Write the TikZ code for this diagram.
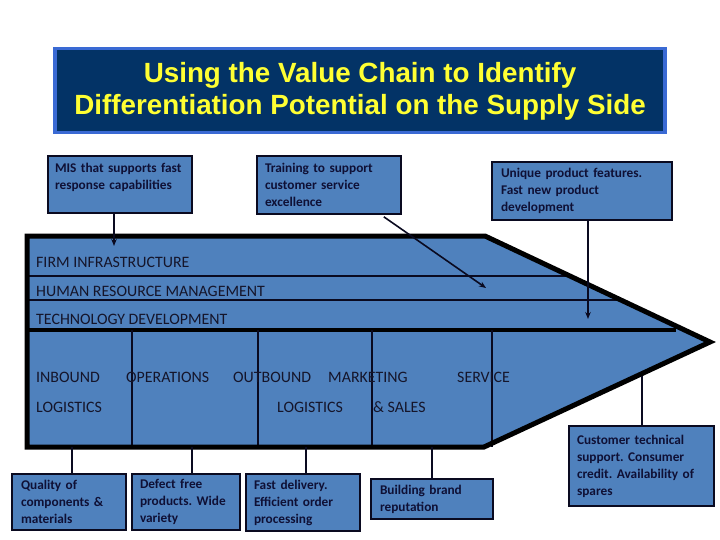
\documentclass[tikz,border=0pt]{standalone}
\usepackage{fontspec}
\setmainfont{Carlito}
\newfontfamily\titlefont{Liberation Sans}
\usetikzlibrary{arrows.meta,calc}
\definecolor{chainblue}{HTML}{4F81BD}
\definecolor{titlefill}{HTML}{033366}
\definecolor{titleborder}{HTML}{3A6AD4}
\definecolor{titletext}{HTML}{FFFF33}
\definecolor{boxtext}{HTML}{0F1035}
\definecolor{lbltext}{HTML}{15152A}
\definecolor{darkline}{HTML}{0A0A20}
\frenchspacing
\begin{document}
\begin{tikzpicture}[x=1pt,y=-1pt,
  box/.style={draw=darkline, line width=1.6pt, fill=chainblue, text=boxtext,
    font=\fontsize{13.3}{17}\selectfont\bfseries\frenchspacing, align=left, inner xsep=7pt, inner ysep=0pt},
  lbl/.style={anchor=base west, inner sep=0pt, text=lbltext, font=\fontsize{15.9}{18}\selectfont},
  conn/.style={line width=1.6pt, draw=darkline},
  arr/.style={conn, -{Stealth[length=7pt,width=5.5pt]}},
  rowline/.style={line width=1.8pt, draw=darkline},
  colline/.style={line width=1.5pt, draw=darkline},
]
\useasboundingbox (0,0) rectangle (720,540);

% title
\node[draw=titleborder, line width=3.5pt, fill=titlefill, minimum width=610pt, minimum height=84pt,
  inner sep=0pt] (title) at (360,90.5) {};
\node[text=titletext, align=center, inner sep=0pt,
  font=\titlefont\bfseries\fontsize{27.8}{32}\selectfont] (titletxt) at (360,91)
  {Using the Value Chain to Identify\\Differentiation Potential on the Supply Side};

% chain body
\coordinate (tl) at (27,236);
\coordinate (tr) at (485,236);
\coordinate (tip) at (710,342);
\coordinate (br) at (484,447);
\coordinate (bl) at (27,447);
\fill[chainblue] (tl) -- (tr) -- (tip) -- (br) -- (bl) -- cycle;

% support rows
\draw[rowline] (27,276) -- (571,276);
\draw[rowline] (27,300) -- (622,300);
\draw[line width=4.5pt, draw=black] (27,330) -- (676,330);

% primary columns
\foreach \x in {132,258,372,492} \draw[colline] (\x,330) -- (\x,447);

\draw[line width=5pt, line join=miter, draw=black] (tl) -- (tr) -- (tip) -- (br) -- (bl) -- cycle;

% labels
\node[lbl] (firm) at (36,267) {FIRM INFRASTRUCTURE};
\node[lbl] (hrm) at (36,296) {HUMAN RESOURCE MANAGEMENT};
\node[lbl] (tech) at (36,324) {TECHNOLOGY DEVELOPMENT};
\node[lbl] (inb) at (36,382) {INBOUND};
\node[lbl] (inb2) at (36,412) {LOGISTICS};
\node[lbl] (ops) at (126,382) {OPERATIONS};
\node[lbl] (outb) at (233,382) {OUTBOUND};
\node[lbl] (outb2) at (277,412) {LOGISTICS};
\node[lbl] (mkt) at (328,382) {MARKETING};
\node[lbl] (mkt2) at (373,412) {\& SALES};
\node[lbl] (srv) at (457,382) {SERVICE};

% top boxes
\node[box, minimum width=144pt, minimum height=57pt, text width=130pt] (mis) at (120,184.5)
  {\mbox{MIS that supports fast}\\response capabilities\\\mbox{}};
\node[box, minimum width=144pt, minimum height=58pt, text width=130pt, inner xsep=8pt, text width=128pt] (train) at (329,185)
  {Training to support\\customer service\\excellence};
\node[box, minimum width=180pt, minimum height=58pt, text width=162pt, inner xsep=9pt] (uniq) at (582,191)
  {Unique product features.\\Fast new product\\development};

% bottom boxes
\node[box, minimum width=114pt, minimum height=56pt, text width=96pt, inner xsep=9pt] (qual) at (69,502)
  {Quality of\\components \&\\materials};
\node[box, minimum width=108pt, minimum height=56pt, text width=92pt, inner xsep=8pt] (defect) at (186,502)
  {Defect free\\products. Wide\\variety};
\node[box, minimum width=114pt, minimum height=57pt, text width=98pt, inner xsep=8pt] (fast) at (303,502.5)
  {Fast delivery.\\Efficient order\\processing};
\node[box, minimum width=122pt, minimum height=40pt, text width=104pt, inner xsep=9pt] (brand) at (432,499)
  {Building brand\\reputation};
\node[box, minimum width=145pt, minimum height=80pt, text width=129pt, inner xsep=8pt] (cust) at (641.5,466)
  {Customer technical\\support. Consumer\\credit. Availability of\\spares};

% connectors
\coordinate (misTip) at (114,246);
\draw[arr] (mis.south -| misTip) -- (misTip);
\coordinate (trTip) at (486,288);
\draw[arr] ($(train.south east)+(-18,2)$) -- (trTip);
\coordinate (uTip) at (588,319);
\draw[arr] (uniq.south -| uTip) -- (uTip);
\coordinate (cTop) at (642,376);
\draw[conn] (cTop) -- (cust.north -| cTop);
\coordinate (b1) at (72,447);
\coordinate (b2) at (192,447);
\coordinate (b3) at (306,447);
\coordinate (b4) at (432,447);
\draw[conn] (b1) -- (qual.north -| b1);
\draw[conn] (b2) -- (defect.north -| b2);
\draw[conn] (b3) -- (fast.north -| b3);
\draw[conn] (b4) -- (brand.north -| b4);
\end{tikzpicture}
\end{document}
